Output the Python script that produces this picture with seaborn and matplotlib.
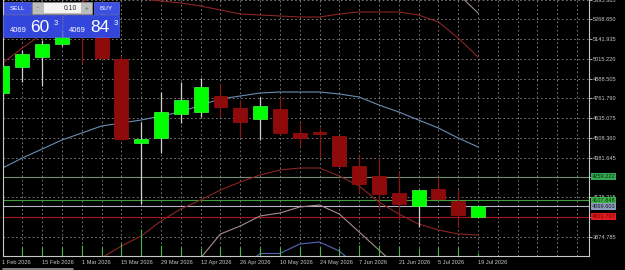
import numpy as np
import pandas as pd
import matplotlib
matplotlib.use("Agg")
import matplotlib.pyplot as plt
from matplotlib.patches import Rectangle
import seaborn as sns

# ---------------- data ----------------
week_labels = ["1 Feb 2026", "8 Feb 2026", "15 Feb 2026", "22 Feb 2026", "1 Mar 2026",
               "8 Mar 2026", "15 Mar 2026", "22 Mar 2026", "29 Mar 2026", "5 Apr 2026",
               "12 Apr 2026", "19 Apr 2026", "26 Apr 2026", "3 May 2026", "10 May 2026",
               "17 May 2026", "24 May 2026", "31 May 2026", "7 Jun 2026", "14 Jun 2026",
               "21 Jun 2026", "28 Jun 2026", "5 Jul 2026", "12 Jul 2026", "19 Jul 2026"]

opens  = [4796, 4963, 5027, 5110, 5264, 5200, 5014, 4475, 4507, 4661, 4674, 4777, 4700,
          4629, 4693, 4540, 4546, 4520, 4328, 4264, 4155, 4071, 4180, 4103, 4001.797]
highs  = [4995, 5072, 5136, 5200, 5341, 5232, 5033, 4610, 4802, 4867, 4892, 4860, 4751,
          4770, 4770, 4604, 4572, 4522, 4398, 4379, 4289, 4174, 4257, 4174, 4072]
lows   = [4777, 4867, 4841, 5097, 4988, 5008, 4495, 4084, 4411, 4604, 4642, 4642, 4514,
          4495, 4527, 4450, 4379, 4322, 4155, 4046, 3982, 3937, 4110, 3937, 4001.797]
closes = [4969, 5046, 5110, 5162, 5174, 5020, 4501, 4501, 4674, 4751, 4835, 4706, 4610,
          4713, 4540, 4507, 4533, 4328, 4212, 4148, 4084, 4174, 4116, 4014, 4069.603]
volumes = [41, 45, 46, 44, 55, 47, 64, 135, 55, 45, 41, 45, 46, 44, 45, 46, 44, 41, 55,
           56, 50, 41, 45, 46, 15]

nan = np.nan
bb_mid = [4315.1, 4379.2, 4436.9, 4494.6, 4539.5, 4584.4, 4603.7, 4622.9, 4648.6, 4674.2,
          4719.1, 4757.6, 4776.8, 4796.0, 4802.5, 4802.5, 4802.5, 4789.6, 4770.4, 4719.1,
          4674.2, 4622.9, 4571.6, 4507.5, 4449.8]
bb_up2 = [4988.4, 5084.6, 5174.4, 5277.0, 5379.6, 5430.9, 5418.1, 5398.8, 5386.0, 5373.2,
          5353.9, 5328.3, 5302.6, 5296.2, 5289.8, 5283.4, 5283.4, 5302.6, 5315.5, 5315.5,
          5315.5, 5296.2, 5251.3, 5148.7, 5026.9]
bb_lo2 = [3641.8, 3673.8, 3699.5, 3712.3, 3699.5, 3737.9, 3814.9, 3879.0, 3975.2, 4052.2,
          4109.9, 4174.0, 4225.3, 4270.2, 4302.3, 4315.1, 4315.1, 4263.8, 4199.7, 4097.1,
          4020.1, 3956.0, 3917.5, 3891.9, 3885.4]
bb_lo3 = [nan] * 9 + [3564.8, 3737.9, 3891.9, 3943.2, 4007.3, 4026.5, 4065.0, 4077.8,
                      4020.1, 3904.7, 3789.2, 3673.8, 3584.0] + [nan] * 3
bb_lo4 = [nan] * 11 + [3564.8, 3661.0, 3766.8, 3766.8, 3827.7, 3840.5, 3782.8, 3673.8] + [nan] * 6
bb_up3 = [nan] * 22 + [5552.7, 5430.9, 5309.1]

ytick_values = [3874.785, 4001.500, 4128.215, 4254.930, 4381.645, 4508.360, 4635.075,
                4761.790, 4888.505, 5015.220, 5141.935, 5268.650, 5395.365]
# labels fully covered by the price-level boxes in the reference are left blank
ytick_hidden = [4001.500, 4254.930]

level_prices = [4259.222, 4107.848, 4069.603, 4001.797]
level_texts = ["4259.222", "4107.848", "4069.603", "4001.797"]

bid_big, ask_big = "60", "84"
bid_small, ask_small = "4069", "4069"
lot_text = "0.10"

# ---------------- style ----------------
sns.set_theme(style="dark", rc={"axes.facecolor": "black", "figure.facecolor": "black"})
plt.rcParams["font.family"] = ["Liberation Sans", "DejaVu Sans"]

W, H = 625, 270
fig = plt.figure(figsize=(W / 100, H / 100), dpi=100)
fig.patch.set_facecolor("black")

px_per_week = 19.83
x0_px = 2.0
ax_left_px, ax_right_px = 2.5, 589.0
ax_top_px, ax_bot_px = -10.0, 256.0
ax = fig.add_axes([ax_left_px / W, (H - ax_bot_px) / H,
                   (ax_right_px - ax_left_px) / W, (ax_bot_px - ax_top_px) / H])
ax.set_facecolor("black")

price_per_px = 6.4127
price_top0 = 5392.42
ymin = price_top0 - price_per_px * ax_bot_px
ymax = price_top0 - price_per_px * ax_top_px

idx = np.arange(len(opens))

# level lines
level_line_colors = ["#6f8f6f", "#3f9f3f", "#b4b4c4", "#a81818"]
level_box_colors = ["#34a853", "#3cb44a", "#8e9cbc", "#e01c1c"]
level_text_colors = ["#0c2a0c", "#0c2a0c", "#101828", "#6a0000"]
for p, lc in zip(level_prices, level_line_colors):
    ax.axhline(p, color=lc, lw=0.8, zorder=1.8)

# bands
df = pd.DataFrame({"x": idx, "mid": bb_mid, "up2": bb_up2, "lo2": bb_lo2,
                   "lo3": bb_lo3, "lo4": bb_lo4, "up3": bb_up3})
line_colors = {"up2": "#8b2424", "lo2": "#8b2424", "mid": "#6a8db5",
               "lo3": "#a88c8c", "up3": "#a08c8c", "lo4": "#5566bb"}
for col, colr in line_colors.items():
    d = df[["x", col]].dropna()
    sns.lineplot(data=d, x="x", y=col, ax=ax, color=colr, lw=0.8, zorder=2, legend=False)

# volumes
vol_scale = 27 * price_per_px / max(volumes)
ax.vlines(idx, ymin, ymin + np.array(volumes) * vol_scale, color="#45b845", lw=0.8, zorder=2.5)

# candles
for i, (o, h, l, c) in enumerate(zip(opens, highs, lows, closes)):
    up = c >= o
    ax.vlines(i, l, h, color="#d0d0d0" if up else "#8f1616", lw=0.9, zorder=3)
    ax.bar(i, abs(c - o), bottom=min(o, c), width=0.7,
           color="#00ff00" if up else "#8f0a0a",
           edgecolor="#40ff40" if up else "#9a1010", linewidth=0.5, zorder=4)

ax.set_xlim((ax_left_px - x0_px) / px_per_week, (ax_right_px - x0_px) / px_per_week)
ax.set_ylim(ymin, ymax)
ax.set_xlabel("")
ax.set_ylabel("")

# ticks
ax.yaxis.tick_right()
ax.set_yticks(ytick_values)
ax.set_yticklabels(["" if v in ytick_hidden else f"{v:.3f}" for v in ytick_values])
ax.tick_params(axis="y", which="major", direction="out", length=2.2, width=0.6,
               color="#c8c8c8", pad=0.8, labelsize=4.1, labelcolor="#c8c8c8")
ax.set_xticks(idx[::2])
ax.set_xticklabels([week_labels[i] for i in idx[::2]])
for t in ax.get_xticklabels():
    t.set_ha("left")
ax.set_xticks(np.arange(0, 30), minor=True)
ax.tick_params(axis="x", which="major", direction="out", length=2.2, width=0.6,
               color="#c8c8c8", pad=1.0, labelsize=4.1, labelcolor="#c8c8c8")
ax.tick_params(axis="x", which="minor", length=0)

ax.set_axisbelow(True)
ax.grid(True, which="both", axis="x", color="#8a8a8a", lw=0.6, linestyle=(0, (2, 3)))
ax.grid(True, which="major", axis="y", color="#8a8a8a", lw=0.6, linestyle=(0, (2, 3)))

for s in ["left", "right", "bottom"]:
    ax.spines[s].set_visible(True)
    ax.spines[s].set_color("#c8c8c8")
    ax.spines[s].set_linewidth(0.8)
ax.spines["top"].set_visible(False)

# level labels on the price scale
for p, txt, bc, tc in zip(level_prices, level_texts, level_box_colors, level_text_colors):
    ax.text(ax.get_xlim()[1] + 0.13, p, txt, fontsize=4.1, color=tc, ha="left", va="center",
            clip_on=False, zorder=10,
            bbox=dict(boxstyle="square,pad=0.18", fc=bc, ec="none"))

# ---------------- overlay: one-click trading panel ----------------
ov = fig.add_axes([0, 0, 1, 1], zorder=20)
ov.set_xlim(0, W)
ov.set_ylim(H, 0)
ov.axis("off")

blue = "#3346dc"
ov.add_patch(Rectangle((4, 2), 27, 12, fc="#3d50e2", ec="#6070f0", lw=0.5))
ov.add_patch(Rectangle((94, 2), 25, 12, fc="#3d50e2", ec="#6070f0", lw=0.5))
ov.add_patch(Rectangle((32, 2), 60, 12, fc="#bdbdbd", ec="#9a9a9a", lw=0.5))
ov.add_patch(Rectangle((44, 3), 37, 10, fc="#f4f4f4", ec="none"))
ov.add_patch(Rectangle((3, 15), 59, 22, fc=blue, ec="#5264ee", lw=0.5))
ov.add_patch(Rectangle((63, 15), 56, 22, fc=blue, ec="#5264ee", lw=0.5))
ov.text(17.5, 8.2, "SELL", fontsize=4.6, color="white", ha="center", va="center")
ov.text(106.5, 8.2, "BUY", fontsize=4.6, color="white", ha="center", va="center")
ov.text(70, 8.2, lot_text, fontsize=4.9, color="#303030", ha="center", va="center")
ov.text(38, 8.2, "-", fontsize=4.5, color="#505050", ha="center", va="center")
ov.text(86.5, 8.2, "+", fontsize=4.5, color="#505050", ha="center", va="center")
ov.text(18.5, 30.5, bid_small, fontsize=5.5, color="white", ha="center", va="center")
ov.text(40, 27.5, bid_big, fontsize=12.5, color="white", ha="center", va="center")
ov.text(55.5, 23.5, "3", fontsize=5.5, color="white", ha="center", va="center")
ov.text(77, 30.5, ask_small, fontsize=5.5, color="white", ha="center", va="center")
ov.text(100, 27.5, ask_big, fontsize=12.5, color="white", ha="center", va="center")
ov.text(115.5, 23.5, "3", fontsize=5.5, color="white", ha="center", va="center")
ov.plot([3, 73], [269, 269], color="#9a9a9a", lw=1.2)

fig.savefig("out.png", dpi=100, facecolor="black")
